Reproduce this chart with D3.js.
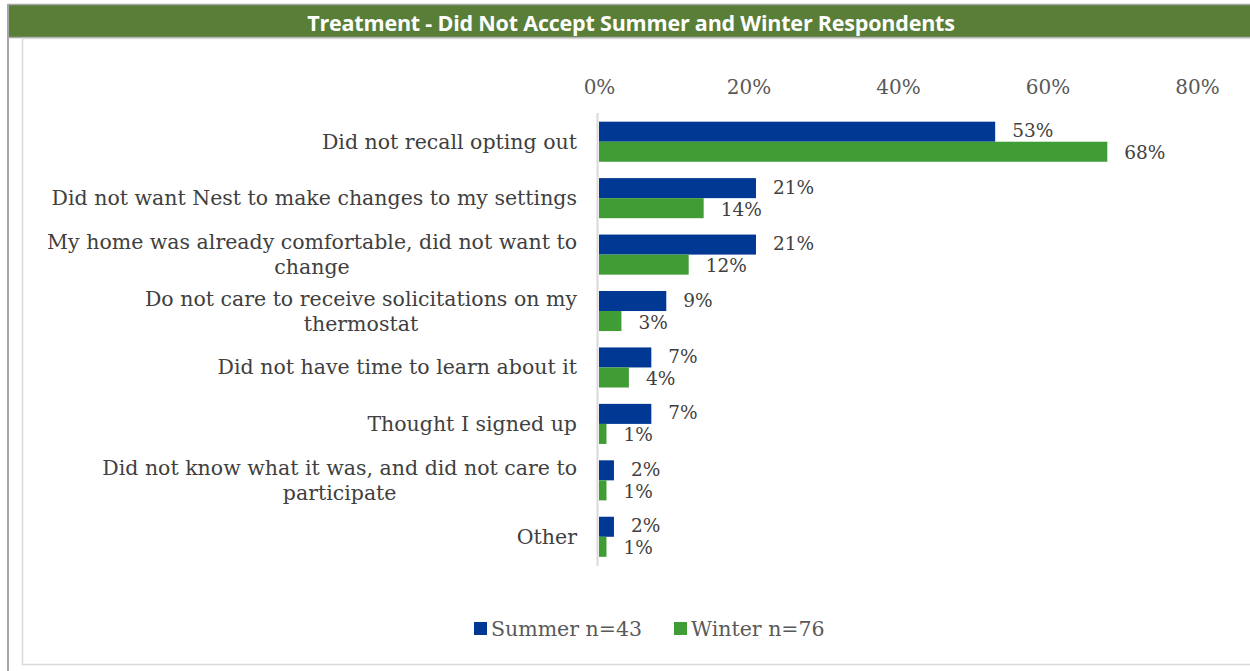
<!DOCTYPE html>
<html>
<head>
<meta charset="utf-8">
<script src="https://cdn.jsdelivr.net/npm/d3@7"></script>
<style>
  html, body { margin: 0; padding: 0; background: #fff; }
  svg { display: block; }
</style>
</head>
<body>
<svg id="chart" width="1250" height="671"></svg>
<script>
// Reasons for not accepting, with line breaks where labels wrap
const categories = [
  "Did not recall opting out",
  "Did not want Nest to make changes to my settings",
  "My home was already comfortable, did not want to\nchange",
  "Do not care to receive solicitations on my\nthermostat",
  "Did not have time to learn about it",
  "Thought I signed up",
  "Did not know what it was, and did not care to\nparticipate",
  "Other"
];
const summerValues = [0.53, 0.21, 0.21, 0.09, 0.07, 0.07, 0.02, 0.02];
const winterValues = [0.68, 0.14, 0.12, 0.03, 0.04, 0.01, 0.01, 0.01];
const seriesNames = ["Summer n=43", "Winter n=76"];
const seriesColors = ["#003893", "#409c35"];
const tickValues = [0, 0.2, 0.4, 0.6, 0.8];
const titleText = "Treatment - Did Not Accept Summer and Winter Respondents";

const svg = d3.select("#chart");
const W = 1250, H = 671;
const serif = "'DejaVu Serif', serif";
const textColor = "#404040";

// Frame and header band
svg.append("rect").attr("x", 0).attr("y", 0).attr("width", W).attr("height", H).attr("fill", "#fff");
svg.append("line").attr("x1", 8).attr("x2", 8).attr("y1", 4).attr("y2", H)
  .attr("stroke", "#a6a6a6").attr("stroke-width", 2);
svg.append("rect").attr("x", 9).attr("y", 5).attr("width", W - 9).attr("height", 32)
  .attr("fill", "#587e38");
svg.append("line").attr("x1", 8).attr("x2", W).attr("y1", 4.5).attr("y2", 4.5)
  .attr("stroke", "#a6a6a6").attr("stroke-width", 1.5);
svg.append("line").attr("x1", 8).attr("x2", W).attr("y1", 37.5).attr("y2", 37.5)
  .attr("stroke", "#a6a6a6").attr("stroke-width", 1.5);
svg.append("text").attr("x", 631).attr("y", 22).attr("text-anchor", "middle")
  .attr("dominant-baseline", "central")
  .attr("font-family", "'Open Sans', sans-serif").attr("font-weight", 700)
  .attr("font-size", 21.5).attr("letter-spacing", -0.2).attr("fill", "#fff").text(titleText);

// Inner chart area border
svg.append("rect").attr("x", 22.5).attr("y", 38.5).attr("width", W).attr("height", 626)
  .attr("fill", "none").attr("stroke", "#d9d9d9").attr("stroke-width", 1.5);

// Scales
const x = d3.scaleLinear().domain([0, 0.8]).range([599, 1197]);
const y = d3.scaleBand().domain(categories).range([113.5, 565]).paddingInner(0.29).paddingOuter(0.145);
const sub = d3.scaleBand().domain(seriesNames).range([0, y.bandwidth()]);

// Top axis with percentage ticks, no line or tick marks
const axis = d3.axisTop(x).tickValues(tickValues).tickFormat(d3.format(".0%")).tickSize(0).tickPadding(0);
const gAxis = svg.append("g").attr("transform", "translate(0,94)").call(axis);
gAxis.select(".domain").remove();
gAxis.selectAll("text").attr("font-family", serif).attr("font-size", 20).attr("fill", "#595959");

// Vertical category axis line
svg.append("line").attr("x1", 597.5).attr("x2", 597.5).attr("y1", 113).attr("y2", 566)
  .attr("stroke", "#d9d9d9").attr("stroke-width", 2);

// Bars
const rows = categories.map((c, i) => ({ c, vals: [summerValues[i], winterValues[i]] }));
const groups = svg.append("g").selectAll("g").data(rows).join("g")
  .attr("transform", d => `translate(0,${y(d.c)})`);

groups.selectAll("rect").data(d => d.vals.map((v, j) => ({ v, s: seriesNames[j], j })))
  .join("rect")
  .attr("x", x(0))
  .attr("y", d => sub(d.s))
  .attr("width", d => x(d.v) - x(0))
  .attr("height", sub.bandwidth())
  .attr("fill", d => seriesColors[d.j]);

groups.selectAll("text.val").data(d => d.vals.map((v, j) => ({ v, s: seriesNames[j], j })))
  .join("text").attr("class", "val")
  .attr("x", d => x(d.v) + 17)
  .attr("y", d => sub(d.s) + sub.bandwidth() / 2 + (d.j === 0 ? -1 : 1))
  .attr("dominant-baseline", "central")
  .attr("font-family", serif).attr("font-size", 18.5).attr("fill", textColor)
  .text(d => d3.format(".0%")(d.v));

// Category labels: right-aligned block, lines centred within it
const lineH = 25;
groups.each(function(d) {
  const g = d3.select(this);
  const lines = d.c.split("\n");
  const cy = y.bandwidth() / 2;
  const t = g.append("text")
    .attr("font-family", serif).attr("font-size", 20.5).attr("fill", textColor)
    .attr("dominant-baseline", "central");
  lines.forEach((ln, k) => {
    t.append("tspan").attr("x", 0).attr("y", cy + (k - (lines.length - 1) / 2) * lineH).text(ln);
  });
  // measure and position each line
  const spans = t.selectAll("tspan").nodes();
  const widths = spans.map(s => s.getComputedTextLength());
  const blockW = d3.max(widths);
  const right = 577;
  spans.forEach((s, k) => {
    d3.select(s).attr("x", right - blockW + (blockW - widths[k]) / 2);
  });
});

// Legend
const legend = svg.append("g").attr("transform", "translate(474,629)");
const legX = [0, 200];
seriesNames.forEach((name, i) => {
  const g = legend.append("g").attr("transform", `translate(${legX[i]},0)`);
  g.append("rect").attr("x", 0).attr("y", -7).attr("width", 13).attr("height", 13).attr("fill", seriesColors[i]);
  g.append("text").attr("x", 17).attr("y", 0).attr("dominant-baseline", "central")
    .attr("font-family", serif).attr("font-size", 20.5).attr("fill", "#595959").text(name);
});
</script>
</body>
</html>
